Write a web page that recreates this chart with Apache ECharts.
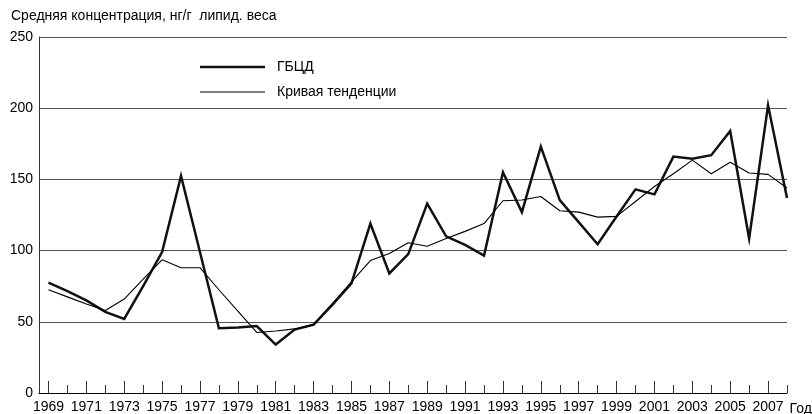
<!DOCTYPE html>
<html>
<head>
<meta charset="utf-8">
<script src="https://cdn.jsdelivr.net/npm/echarts@6/dist/echarts.min.js"></script>
<style>
	html, body { margin: 0; padding: 0; background: #fff; }
	#chart { width: 812px; height: 414px; }
</style>
</head>
<body>
<div id="chart"></div>
<script>
	var years = [1969, 1970, 1971, 1972, 1973, 1974, 1975, 1976, 1977, 1978,
		1979, 1980, 1981, 1982, 1983, 1984, 1985, 1986, 1987, 1988,
		1989, 1990, 1991, 1992, 1993, 1994, 1995, 1996, 1997, 1998,
		1999, 2000, 2001, 2002, 2003, 2004, 2005, 2006, 2007, 2008];
	//ГБЦД
	var hbcdValues = [77.5, 71.5, 65, 57, 52, 75, 99, 152.5, 99, 45.5,
		46, 47, 34, 44.5, 48, 62, 77, 119, 84, 97.5,
		133, 110, 104, 96.5, 155, 127, 173, 135.5, 120, 104.5,
		124, 143, 139.5, 166, 164.5, 167, 184, 108.5, 202, 137];
	//Кривая тенденции
	var trendValues = [72.5, 67.5, 62.5, 58, 66, 80, 93.5, 88, 88, 72.5,
		57.5, 42.5, 43.5, 45, 48, 63, 78, 93, 98, 105.5,
		103, 108.5, 113.5, 119, 135, 135.5, 138, 128, 127, 123.5,
		124, 134.5, 145, 154, 163.5, 154, 162, 154.5, 153.5, 144];
	var labelYears = [1969, 1971, 1973, 1975, 1977, 1979, 1981, 1983, 1985, 1987,
		1989, 1991, 1993, 1995, 1997, 1999, 2001, 2003, 2005, 2007];
	var minorYears = [1970, 1972, 1974, 1976, 1978, 1980, 1982, 1984, 1986, 1988,
		1990, 1992, 1994, 1996, 1998, 2000, 2002, 2004, 2006, 2008];
	var yTicks = [0, 50, 100, 150, 200, 250];

	function pairs(vals) {
		return years.map(function(y, i) { return [y, vals[i]]; });
	}

	var font = '"Liberation Sans", Arial, sans-serif';
	var chart = echarts.init(document.getElementById('chart'));
	var option = {
		animation: false,
		title: {
			text: 'Средняя концентрация, нг/г  липид. веса',
			left: 6,
			top: 4,
			textStyle: { fontFamily: font, fontSize: 14, fontWeight: 'normal', color: '#000' }
		},
		legend: {
			orient: 'vertical',
			left: 195,
			top: 55,
			itemWidth: 65,
			itemHeight: 14,
			itemGap: 11,
			symbolKeepAspect: true,
			data: [
				{ name: 'ГБЦД', icon: 'path://M0,0H65V2.5H0Z' },
				{ name: 'Кривая тенденции', icon: 'path://M0,0H65V1H0Z' }
			],
			textStyle: { fontFamily: font, fontSize: 14, color: '#000', padding: [0, 0, 0, 7] }
		},
		grid: { left: 39, right: 25, top: 37, bottom: 21, containLabel: false, outerBoundsMode: 'none' },
		xAxis: [{
			type: 'value',
			min: 1968.5,
			max: 2008,
			name: 'Год',
			nameLocation: 'end',
			nameGap: 2,
			nameTextStyle: { fontFamily: font, fontSize: 14, color: '#000', verticalAlign: 'top', padding: [9, 0, 0, 0] },
			axisLine: { lineStyle: { color: '#000', width: 1 } },
			axisTick: { inside: true, length: 12, customValues: labelYears, lineStyle: { color: '#333' } },
			axisLabel: {
				customValues: labelYears,
				fontFamily: font, fontSize: 14, color: '#000', margin: 7,
				formatter: function(v) { return String(v); }
			},
			splitLine: { show: false }
		}, {
			type: 'value',
			min: 1968.5,
			max: 2008,
			position: 'bottom',
			axisLine: { show: false },
			axisTick: { inside: true, length: 8, customValues: minorYears, lineStyle: { color: '#333' } },
			axisLabel: { show: false },
			splitLine: { show: false }
		}],
		yAxis: {
			type: 'value',
			min: 0,
			max: 250,
			interval: 50,
			axisLine: { show: true, lineStyle: { color: '#333' } },
			axisTick: { show: false },
			axisLabel: {
				customValues: yTicks,
				fontFamily: font, fontSize: 14, color: '#000', margin: 6
			},
			splitLine: { lineStyle: { color: '#555', width: 1 } }
		},
		series: [{
			name: 'ГБЦД',
			type: 'line',
			xAxisIndex: 0,
			showSymbol: false,
			symbol: 'none',
			lineStyle: { color: '#111', width: 2.5, join: 'miter' },
			itemStyle: { color: '#111' },
			data: pairs(hbcdValues)
		}, {
			name: 'Кривая тенденции',
			type: 'line',
			xAxisIndex: 0,
			showSymbol: false,
			symbol: 'none',
			lineStyle: { color: '#000', width: 1.1 },
			itemStyle: { color: '#000' },
			data: pairs(trendValues)
		}]
	};
	chart.setOption(option);
</script>
</body>
</html>
